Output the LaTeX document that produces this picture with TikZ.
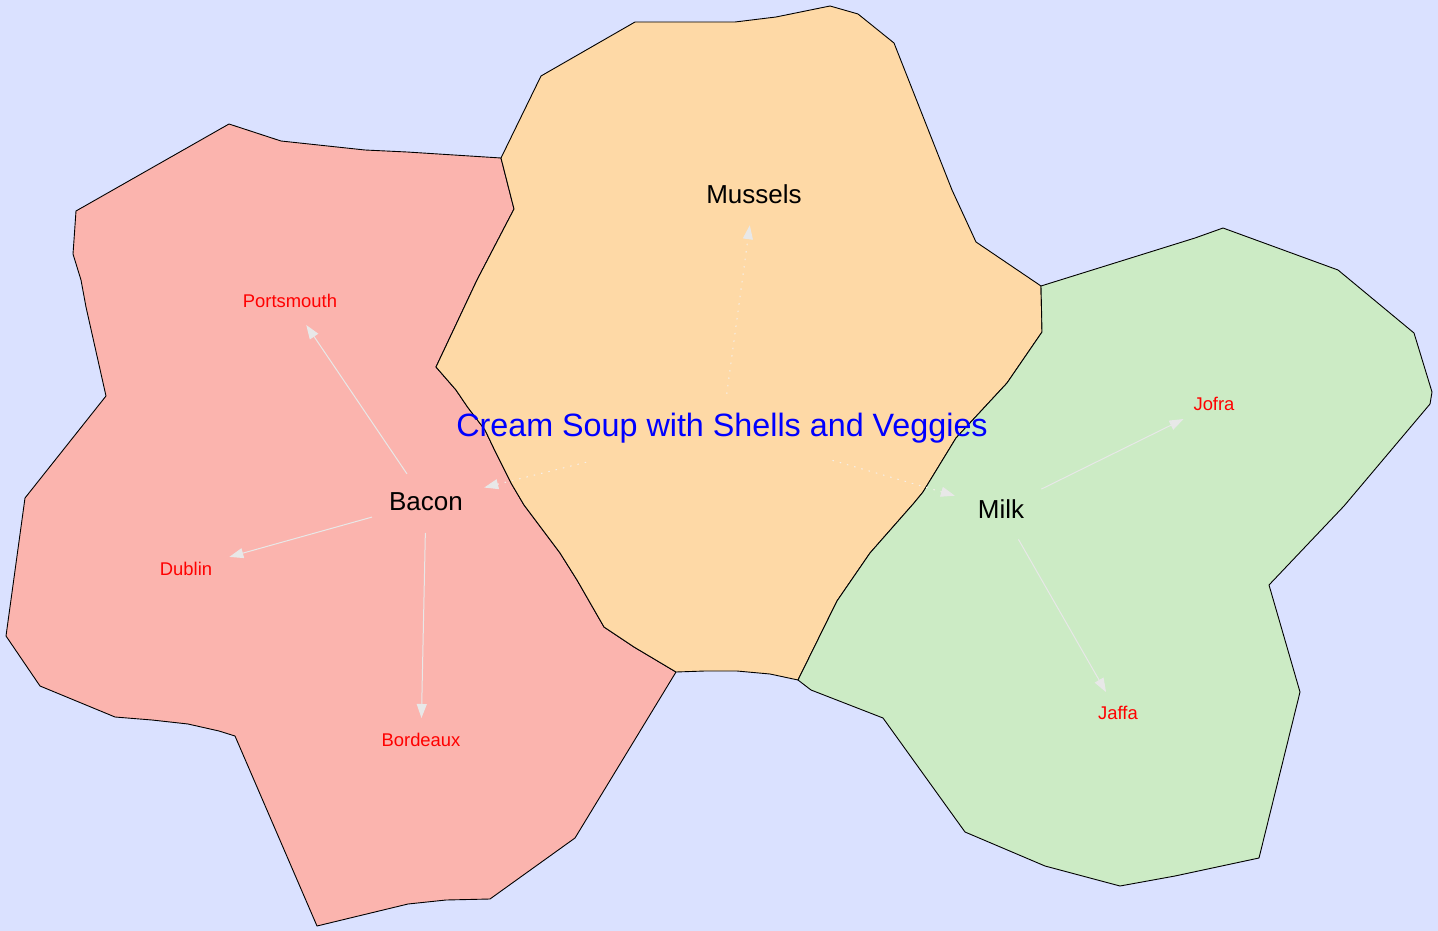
\documentclass[tikz,border=0pt]{standalone}
\usepackage{fontspec}
\setmainfont{Liberation Sans}
\usetikzlibrary{arrows.meta}
\definecolor{bgblue}{RGB}{218,225,255}
\definecolor{regpink}{RGB}{251,180,174}
\definecolor{regorange}{RGB}{254,217,166}
\definecolor{reggreen}{RGB}{204,235,197}
\definecolor{edgegray}{RGB}{232,232,232}
\definecolor{dotgray}{RGB}{245,240,235}
\tikzset{
  region/.style={draw=black, line width=0.9pt, line join=round},
  mainlbl/.style={inner sep=0pt, font=\fontsize{26}{30}\selectfont, text=black},
  leaflbl/.style={inner sep=0pt, font=\fontsize{18.4}{22}\selectfont, text=red},
  titlelbl/.style={inner sep=0pt, font=\fontsize{32.3}{38}\selectfont, text=blue},
  edge/.style={draw=edgegray, line width=1pt, -{Triangle[length=14pt,width=10pt,fill=edgegray]}},
  softedge/.style={edge, draw=dotgray, dash pattern=on 1.5pt off 6pt, -{Triangle[length=14pt,width=10pt,fill=edgegray,color=edgegray]}}
}
\begin{document}
\begin{tikzpicture}[x=1pt,y=-1pt]
\fill[bgblue] (0,0) rectangle (1438,931);
\useasboundingbox (0,0) rectangle (1438,931);
% Bacon region
\path[region, fill=regpink] (229,124) -- (281,141) -- (309,144) -- (365,150) -- (407,152) -- (501,158) -- (514,209) -- (477,280) -- (436,367) -- (456,390) -- (467.5,407) -- (485,430) -- (496,453) -- (511,483) -- (524,505) -- (560,553) -- (577,580) -- (604,627) -- (634,647) -- (676,672) -- (575,838) -- (490,899) -- (446,900) -- (408,904) -- (317,926) -- (235,736) -- (219,731) -- (188,724) -- (152,720) -- (115,717) -- (40,686) -- (6,636) -- (25,498) -- (106,396) -- (86,307) -- (81,280) -- (73,254) -- (74,240) -- (76,211) -- cycle;
% Mussels region
\path[region, fill=regorange] (501,158) -- (541,76) -- (635,22) -- (682,22) -- (735,22) -- (776,17) -- (830,6) -- (858,14) -- (894,43) -- (952,190) -- (976,242) -- (1041,286) -- (1042,332) -- (1007,383) -- (956,438) -- (923,492) -- (914,503) -- (870,553) -- (837,601) -- (798,680) -- (770,674) -- (737,671) -- (705,671) -- (676,672) -- (634,647) -- (604,627) -- (577,580) -- (560,553) -- (524,505) -- (511,483) -- (496,453) -- (485,430) -- (467.5,407) -- (456,390) -- (436,367) -- (477,280) -- (514,209) -- cycle;
% Milk region
\path[region, fill=reggreen] (1041,286) -- (1195,238) -- (1223,228) -- (1338,270) -- (1414,333) -- (1432,392) -- (1430,404) -- (1344,506) -- (1269,585) -- (1300,692) -- (1259,858) -- (1175,876) -- (1120,886) -- (1045,866) -- (965,832) -- (883,718) -- (811,690) -- (798,680) -- (837,601) -- (870,553) -- (914,503) -- (923,492) -- (956,438) -- (1007,383) -- (1042,332) -- cycle;
% nodes
\node[titlelbl] (title) at (722,428.5) {Cream Soup with Shells and Veggies};
\node[mainlbl] (mussels) at (754,194.5) {Mussels};
\node[mainlbl] (bacon) at (426,502) {Bacon};
\node[mainlbl] (milk) at (1001,509) {Milk};
\node[leaflbl] (portsmouth) at (290,301) {Portsmouth};
\node[leaflbl] (dublin) at (186,569) {Dublin};
\node[leaflbl] (bordeaux) at (421,740) {Bordeaux};
\node[leaflbl] (jofra) at (1214,404) {Jofra};
\node[leaflbl] (jaffa) at (1118,713) {Jaffa};
% edges
\draw[softedge, shorten <=35pt, shorten >=31pt] (title.center) -- (mussels.center);
\draw[softedge, shorten <=140pt, shorten >=60pt] (title.center) -- (bacon.center);
\draw[softedge, shorten <=115pt, shorten >=48pt] (title.center) -- (milk.center);
\draw[edge, shorten <=34pt, shorten >=29pt] (bacon.center) -- (portsmouth.center);
\draw[edge, shorten <=56pt, shorten >=45pt] (bacon.center) -- (dublin.center);
\draw[edge, shorten <=31pt, shorten >=22pt] (bacon.center) -- (bordeaux.center);
\draw[edge, shorten <=45pt, shorten >=34pt] (milk.center) -- (jofra.center);
\draw[edge, shorten <=35pt, shorten >=24pt] (milk.center) -- (jaffa.center);
\end{tikzpicture}
\end{document}
